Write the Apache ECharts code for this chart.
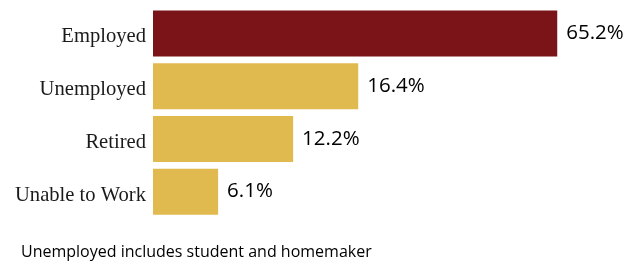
<!DOCTYPE html>
<html lang="en">
<head>
    <meta charset="UTF-8">
    <title>Employment status</title>
    <style>
        html, body { margin: 0; padding: 0; width: 100%; height: 100%; background: #fff; }
        #main { width: 639px; height: 269px; }
    </style>
</head>
<body>
    <div id="main"></div>
    <script src="https://cdn.jsdelivr.net/npm/echarts@6/dist/echarts.min.js"></script>
    <script>
        // categories, top to bottom
        var categories = ['Employed', 'Unemployed', 'Retired', 'Unable to Work'];
        // shares printed next to the bars
        var shares = [65.2, 16.4, 12.2, 6.1];
        // bar lengths as drawn in the picture (same units as Employed = 65.2)
        var barLengths = [65.2, 33.1, 22.6, 10.5];
        var colors = ['#7a1419', '#e0b94f', '#e0b94f', '#e0b94f'];
        var note = 'Unemployed includes student and homemaker';

        var data = barLengths.map(function (v, i) {
            return { value: v, share: shares[i], itemStyle: { color: colors[i] } };
        });

        var myChart = echarts.init(document.getElementById('main'));
        myChart.setOption({
            backgroundColor: '#ffffff',
            animation: false,
            grid: { left: 153, top: 7, height: 211, width: 434 },
            xAxis: {
                type: 'value', min: 0, max: 70, show: false
            },
            yAxis: {
                type: 'category',
                inverse: true,
                data: categories,
                axisLine: { show: false },
                axisTick: { show: false },
                axisLabel: {
                    margin: 7,
                    formatter: function (v) { return '{c|' + v + '}'; },
                    rich: {
                        c: {
                            padding: [7, 0, 0, 0],
                            fontFamily: 'Liberation Serif',
                            fontSize: 20.6,
                            color: '#1a1a1a'
                        }
                    }
                }
            },
            graphic: [{
                type: 'text',
                left: 21,
                top: 244,
                style: {
                    text: note,
                    fontFamily: 'Open Sans',
                    fontSize: 16,
                    fill: '#000'
                }
            }],
            series: [{
                type: 'bar',
                data: data,
                barWidth: 46,
                label: {
                    show: true,
                    position: 'right',
                    distance: 9,
                    fontFamily: 'Open Sans',
                    fontSize: 20.5,
                    color: '#000',
                    formatter: function (p) { return p.data.share.toFixed(1) + '%'; }
                }
            }]
        });
    </script>
</body>
</html>
